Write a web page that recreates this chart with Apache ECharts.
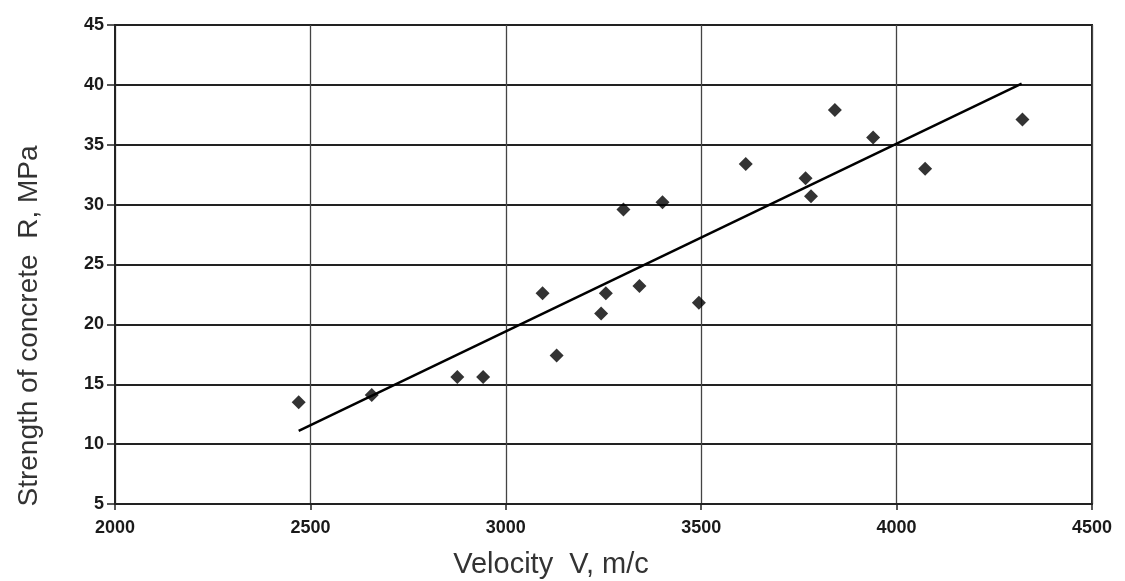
<!DOCTYPE html>
<html>
<head>
<meta charset="utf-8">
<script src="https://cdn.jsdelivr.net/npm/echarts@6/dist/echarts.min.js"></script>
<style>
  html, body { margin: 0; padding: 0; background: #fff; }
  #main { width: 1125px; height: 581px; }
</style>
</head>
<body>
<div id="main"></div>
<script>
// measured points: velocity (m/c) and strength (MPa)
var velocity = [2470, 2657, 2876, 2942, 3094, 3130, 3244, 3256, 3301, 3342, 3401, 3494, 3614, 3767, 3781, 3842, 3940, 4073, 4322];
var strength = [13.5, 14.1, 15.6, 15.6, 22.6, 17.4, 20.9, 22.6, 29.6, 23.2, 30.2, 21.8, 33.4, 32.2, 30.7, 37.9, 35.6, 33.0, 37.1];
// regression line end points
var trendX = [2470, 4320];
var trendY = [11.1, 40.1];

var chart = echarts.init(document.getElementById("main"));

var points = velocity.map(function (v, i) { return [v, strength[i]]; });
var trend = trendX.map(function (v, i) { return [v, trendY[i]]; });

var labelFont = "'Liberation Sans', Arial, sans-serif";

var option = {
  backgroundColor: "#fff",
  animation: false,
  grid: { left: 115, right: 33, top: 25, bottom: 77, show: true, borderColor: "#222", borderWidth: 2 },
  xAxis: {
    type: "value",
    min: 2000, max: 4500, interval: 500,
    axisLine: { show: true, lineStyle: { color: "#222", width: 2 } },
    axisTick: { show: true, length: 6, lineStyle: { color: "#222", width: 1.5 } },
    axisLabel: {
      color: "#1a1a1a", fontSize: 18, fontWeight: "bold", fontFamily: labelFont, margin: 15,
      formatter: function (v) { return String(v); }
    },
    splitLine: { show: true, lineStyle: { color: "#444", width: 1.3 } }
  },
  yAxis: {
    type: "value",
    min: 5, max: 45, interval: 5,
    axisLine: { show: true, lineStyle: { color: "#222", width: 2 } },
    axisTick: { show: true, length: 8, lineStyle: { color: "#222", width: 1.5 } },
    axisLabel: { color: "#1a1a1a", fontSize: 18, fontWeight: "bold", fontFamily: labelFont, margin: 11 },
    splitLine: { show: true, lineStyle: { color: "#222", width: 2 } }
  },
  graphic: [
    {
      type: "text", x: 29, y: 326, rotation: Math.PI / 2,
      style: { text: "Strength of concrete  R, MPa", fill: "#333", fontSize: 28,
        fontFamily: "'Liberation Sans', Arial, sans-serif", align: "center", verticalAlign: "middle" }
    },
    {
      type: "text", x: 551, y: 565,
      style: { text: "Velocity  V, m/c", fill: "#333", fontSize: 29,
        fontFamily: "'Liberation Sans', Arial, sans-serif", align: "center", verticalAlign: "middle" }
    }
  ],
  series: [
    {
      type: "line",
      data: trend,
      symbol: "none",
      lineStyle: { color: "#000", width: 2.5 },
      z: 3
    },
    {
      type: "scatter",
      data: points,
      symbol: "diamond",
      symbolSize: 14,
      itemStyle: { color: "#000" },
      z: 4
    }
  ]
};

chart.setOption(option);
</script>
</body>
</html>
